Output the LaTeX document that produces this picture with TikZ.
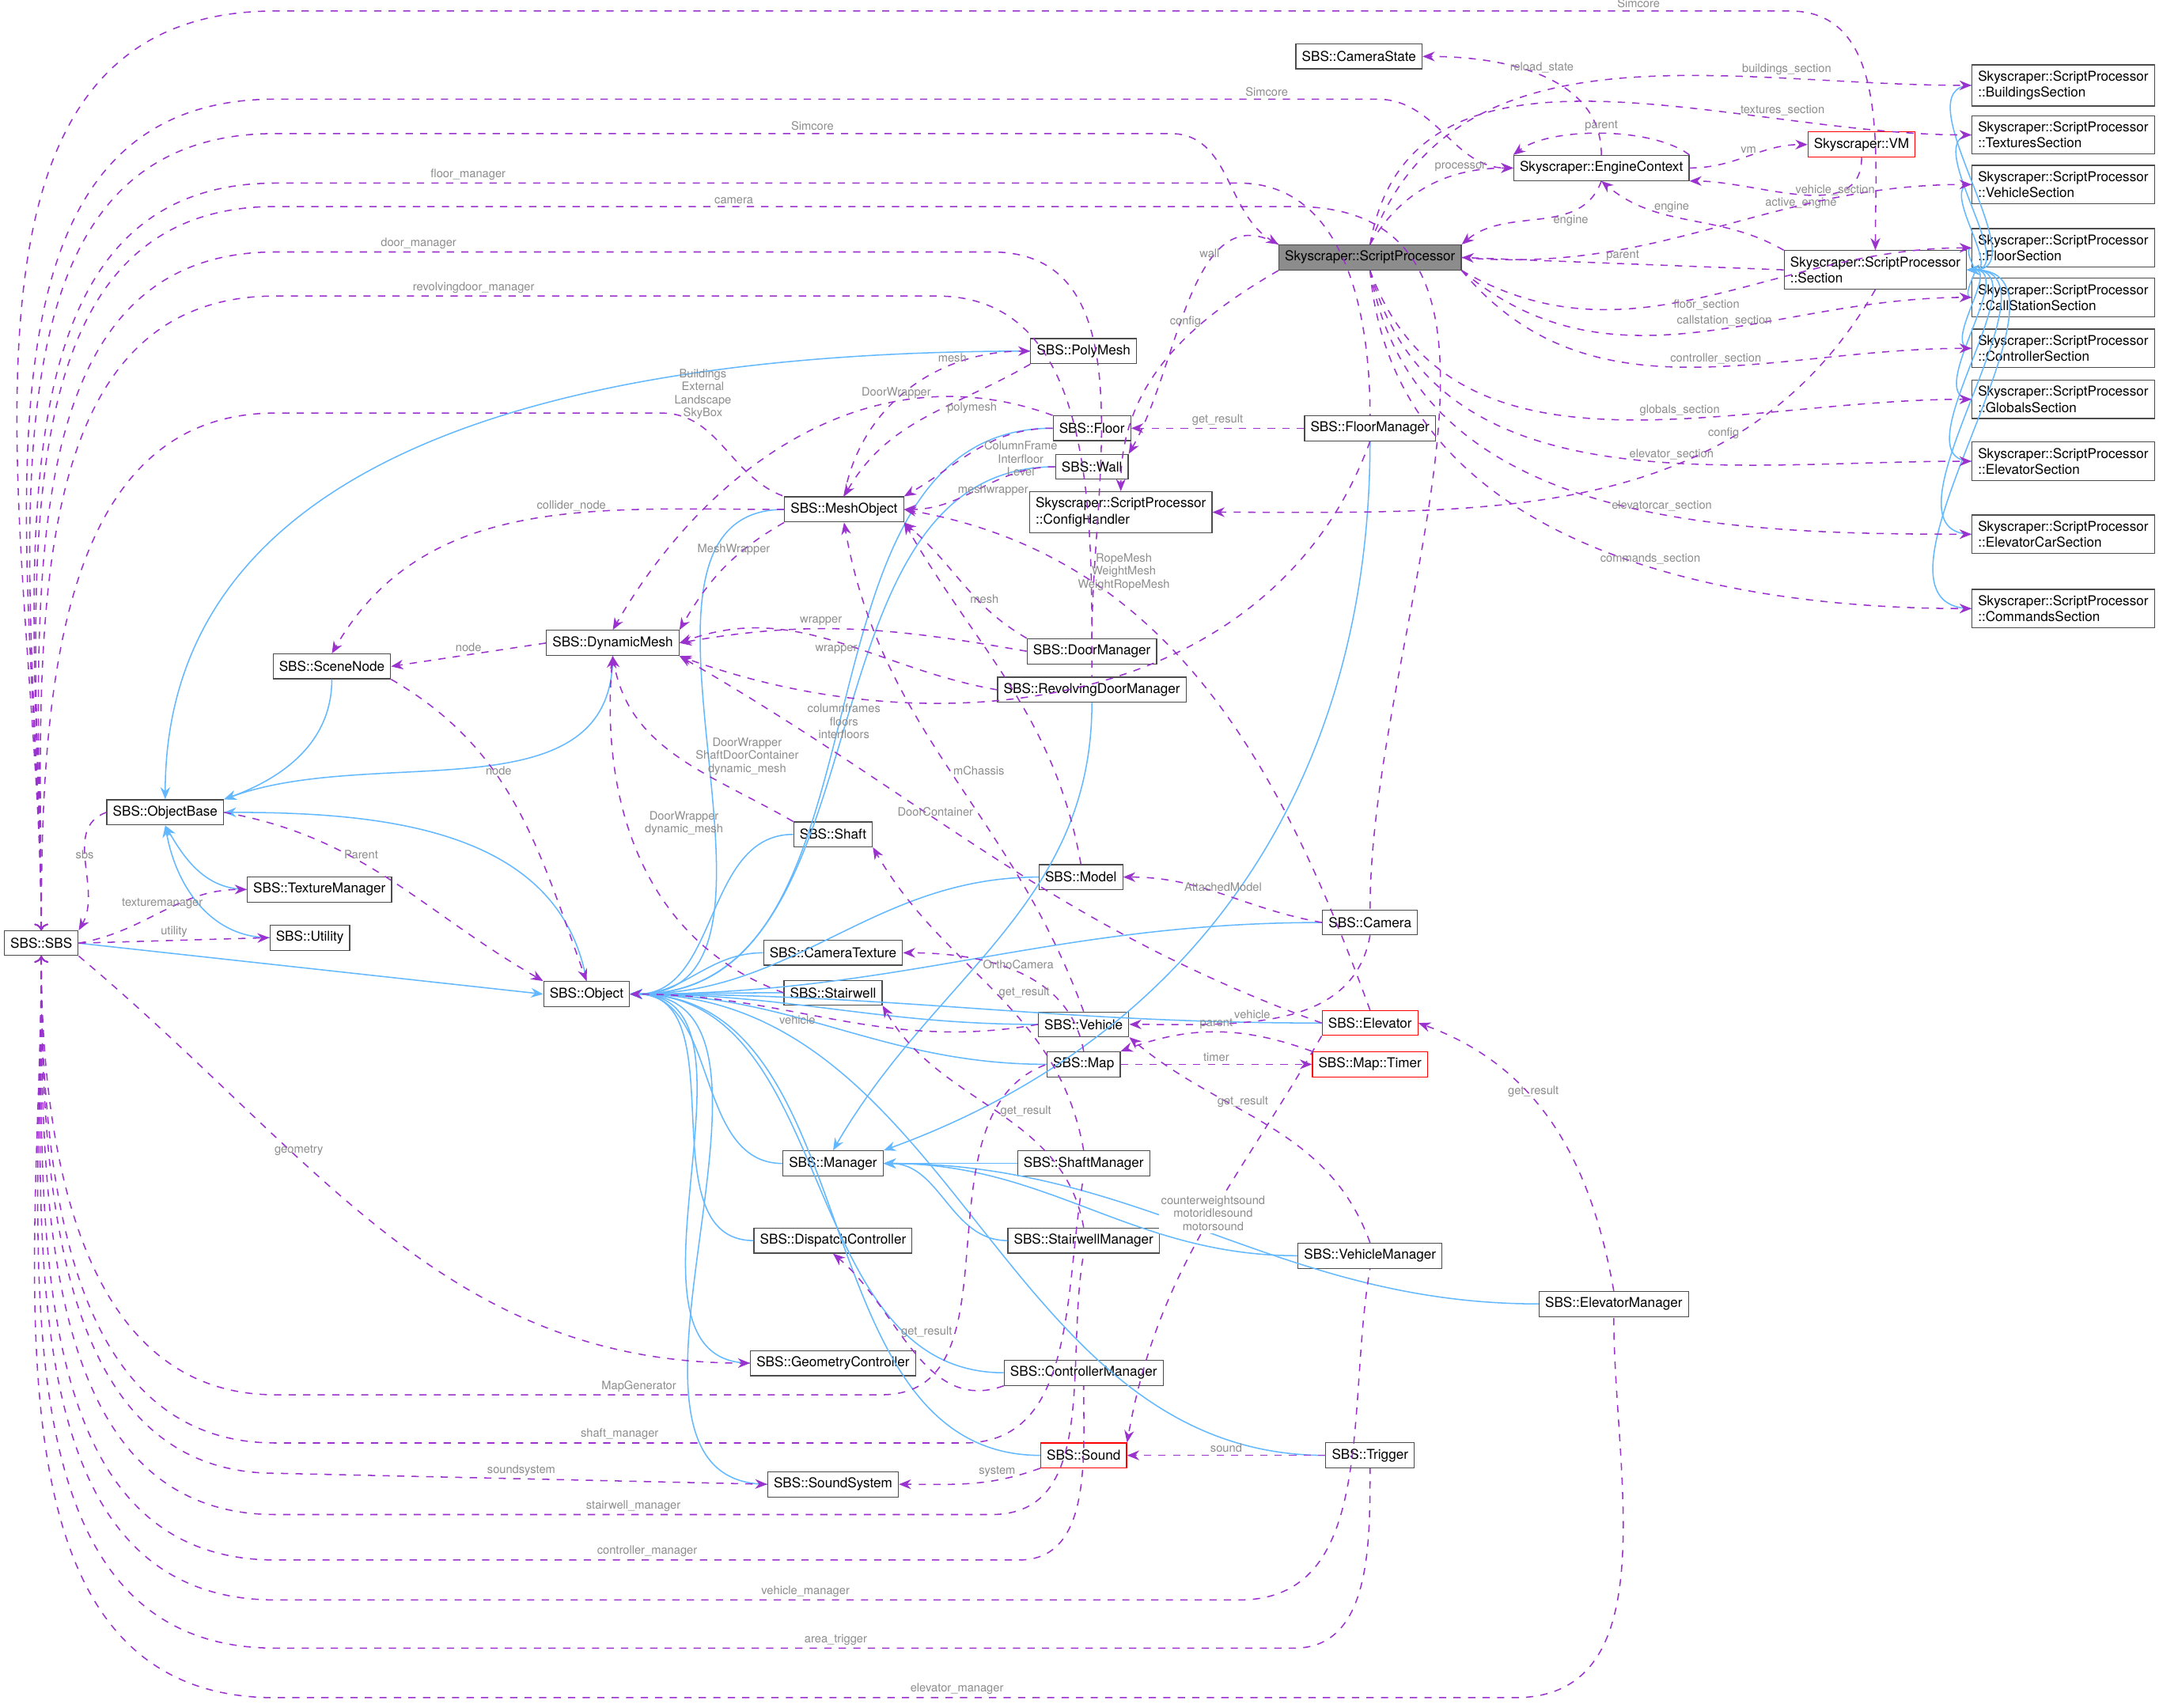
\documentclass[tikz,border=0pt]{standalone}
\usepackage{fontspec}
\setmainfont{TeX Gyre Heros}
\usetikzlibrary{arrows.meta}
\definecolor{inhblue}{HTML}{63B8FF}
\definecolor{deppurple}{HTML}{9A32CD}
\tikzset{
  cls/.style={draw=black!70, fill=white, font=\fontsize{5.6}{6.6}\selectfont, inner sep=2.5pt, minimum height=0.36cm, align=left},
  clsred/.style={cls, draw=red},
  clsgray/.style={cls, fill=black!45},
  secbox/.style={cls, anchor=east},
  inh/.style={draw=inhblue, line width=0.5pt, -{Stealth[length=5pt,width=4pt]}},
  dep/.style={draw=deppurple, dashed, line width=0.5pt, -{Stealth[length=5pt,width=4pt]}},
  lbl/.style={font=\fontsize{4.8}{5.4}\selectfont, text=black!45, inner sep=1pt, align=center}
}
\begin{document}
\begin{tikzpicture}[x=0.02cm, y=-0.02cm]
	\useasboundingbox (0,0) rectangle (1568,1240);
	
	% script processor side
	\node[clsgray] (SP) at (995,187) {Skyscraper::ScriptProcessor};
	\node[cls] (CamState) at (987,41) {SBS::CameraState};
	\node[cls] (EC) at (1163,122) {Skyscraper::EngineContext};
	\node[clsred] (VM) at (1352,105) {Skyscraper::VM};
	\node[cls] (Sec) at (1362,196) {Skyscraper::ScriptProcessor\\::Section};
	\node[secbox] (SBuild) at (1565,62) {Skyscraper::ScriptProcessor\\::BuildingsSection};
	\node[secbox] (STex) at (1565,98) {Skyscraper::ScriptProcessor\\::TexturesSection};
	\node[secbox] (SVeh) at (1565,134) {Skyscraper::ScriptProcessor\\::VehicleSection};
	\node[secbox] (SFloor) at (1565,180) {Skyscraper::ScriptProcessor\\::FloorSection};
	\node[secbox] (SCall) at (1565,216) {Skyscraper::ScriptProcessor\\::CallStationSection};
	\node[secbox] (SCtrl) at (1565,253) {Skyscraper::ScriptProcessor\\::ControllerSection};
	\node[secbox] (SGlob) at (1565,290) {Skyscraper::ScriptProcessor\\::GlobalsSection};
	\node[secbox] (SElev) at (1565,335) {Skyscraper::ScriptProcessor\\::ElevatorSection};
	\node[secbox] (SCar) at (1565,388) {Skyscraper::ScriptProcessor\\::ElevatorCarSection};
	\node[secbox] (SCmd) at (1565,442) {Skyscraper::ScriptProcessor\\::CommandsSection};
	\node[cls] (Config) at (814,372) {Skyscraper::ScriptProcessor\\::ConfigHandler};
	
	% sbs classes
	\node[cls] (SBS) at (30,685) {SBS::SBS};
	\node[cls] (ObjBase) at (120,590) {SBS::ObjectBase};
	\node[cls] (Obj) at (426,722) {SBS::Object};
	\node[cls] (SceneNode) at (241,484) {SBS::SceneNode};
	\node[cls] (DynMesh) at (445,467) {SBS::DynamicMesh};
	\node[cls] (MeshObj) at (613,370) {SBS::MeshObject};
	\node[cls] (PolyMesh) at (787,255) {SBS::PolyMesh};
	\node[cls] (Floor) at (793,311) {SBS::Floor};
	\node[cls] (Wall) at (793,339) {SBS::Wall};
	\node[cls] (FloorMgr) at (995,311) {SBS::FloorManager};
	\node[cls] (DoorMgr) at (793,473) {SBS::DoorManager};
	\node[cls] (RevMgr) at (793,501) {SBS::RevolvingDoorManager};
	\node[cls] (Shaft) at (605,606) {SBS::Shaft};
	\node[cls] (Model) at (785,637) {SBS::Model};
	\node[cls] (Camera) at (995,670) {SBS::Camera};
	\node[cls] (TexMgr) at (232,646) {SBS::TextureManager};
	\node[cls] (Utility) at (225,681) {SBS::Utility};
	\node[cls] (CamTex) at (605,692) {SBS::CameraTexture};
	\node[cls] (Stairwell) at (605,721) {SBS::Stairwell};
	\node[cls] (Vehicle) at (787,744) {SBS::Vehicle};
	\node[clsred] (Elevator) at (995,743) {SBS::Elevator};
	\node[cls] (Map) at (787,773) {SBS::Map};
	\node[clsred] (Timer) at (995,773) {SBS::Map::Timer};
	\node[cls] (Manager) at (605,845) {SBS::Manager};
	\node[cls] (ShaftMgr) at (787,845) {SBS::ShaftManager};
	\node[cls] (Dispatch) at (605,901) {SBS::DispatchController};
	\node[cls] (StairMgr) at (787,901) {SBS::StairwellManager};
	\node[cls] (VehMgr) at (995,912) {SBS::VehicleManager};
	\node[cls] (ElevMgr) at (1172,947) {SBS::ElevatorManager};
	\node[cls] (GeoCtrl) at (605,990) {SBS::GeometryController};
	\node[cls] (CtrlMgr) at (787,997) {SBS::ControllerManager};
	\node[clsred] (Sound) at (787,1057) {SBS::Sound};
	\node[cls] (Trigger) at (995,1057) {SBS::Trigger};
	\node[cls] (SndSys) at (605,1078) {SBS::SoundSystem};
	
	% inheritance
	\foreach \c in {SBuild,STex,SVeh,SFloor,SCall,SCtrl,SGlob,SElev,SCar,SCmd}
		\draw[inh] (\c.west) to[out=180,in=0] (Sec.east);
	\foreach \c in {DynMesh,SceneNode}
		\draw[inh] (\c.south) to[out=-90,in=20] (ObjBase.north east);
	\draw[inh] (PolyMesh.west) to[out=180,in=90] (ObjBase.north);
	\draw[inh] (TexMgr.west) to[out=180,in=-60] (ObjBase.south);
	\draw[inh] (Utility.west) to[out=180,in=-80] (ObjBase.south);
	\draw[inh] (Obj.north) to[out=100,in=0] (ObjBase.east);
	\draw[inh] (SBS.east) -- (Obj.west);
	\foreach \c in {MeshObj,Floor,Wall,Shaft,Model,Camera,CamTex,Stairwell,Vehicle,Map,Manager,Dispatch,GeoCtrl,CtrlMgr,Sound,SndSys,Elevator,Trigger}
		\draw[inh] (\c.west) to[out=180,in=0] (Obj.east);
	\draw[inh] (FloorMgr.south) to[out=-90,in=20] (Manager.north east);
	\draw[inh] (RevMgr.south) to[out=-90,in=60] (Manager.north);
	\foreach \c in {ShaftMgr,StairMgr,VehMgr,ElevMgr}
		\draw[inh] (\c.west) to[out=180,in=0] (Manager.east);
	
	% long connectors from sbs
	\draw[dep] (SBS.north) to[out=90,in=180] (200,8) -- node[lbl,above,pos=0.9]{Simcore} (1300,8) to[out=0,in=90] (Sec.north);
	\draw[dep] (SBS.north) to[out=90,in=180] (200,72) -- node[lbl,above,pos=0.9]{Simcore} (1000,72) to[out=0,in=180] (EC.west);
	\draw[dep] (SBS.north) to[out=90,in=180] (200,97) -- node[lbl,above,pos=0.6]{Simcore} (850,97) to[out=0,in=150] (SP.north west);
	\draw[dep, <-] (SBS.north) to[out=90,in=180] (200,133) -- node[lbl,above,pos=0.2]{floor\_manager} (900,133) to[out=0,in=90] (FloorMgr.north);
	\draw[dep, <-] (SBS.north) to[out=90,in=180] (200,150) -- node[lbl,above,pos=0.45]{camera} (940,150) to[out=0,in=90] (Camera.north);
	\draw[dep, <-] (SBS.north) to[out=90,in=180] (200,183) -- node[lbl,above,pos=0.2]{door\_manager} (720,183) to[out=0,in=90] (DoorMgr.north);
	\draw[dep, <-] (SBS.north) to[out=90,in=180] (200,215) -- node[lbl,above,pos=0.3]{revolvingdoor\_manager} (680,215) to[out=0,in=90] (RevMgr.north);
	\draw[dep, <-] (SBS.north) to[out=90,in=180] (200,300) -- (480,300) to[out=0,in=160] node[lbl,pos=0.3,above=2pt]{Buildings\\External\\Landscape\\SkyBox} (MeshObj.north west);
	\draw[dep] (ObjBase.west) to[out=200,in=60] node[lbl,above]{sbs} (SBS.north east);
	\draw[dep] (SBS.east) to[out=10,in=180] node[lbl,above]{texturemanager} (TexMgr.west);
	\draw[dep] (SBS.east) -- node[lbl,above]{utility} (Utility.west);
	\draw[dep] (SBS.south east) to[out=-40,in=180] node[lbl,above,pos=0.35]{geometry} (GeoCtrl.west);
	\draw[dep, <-] (SBS.south) to[out=-90,in=180] (200,1013) -- node[lbl,above,pos=0.6]{MapGenerator} (640,1013) to[out=0,in=200] (Map.west);
	\draw[dep, <-] (SBS.south) to[out=-90,in=180] (200,1048) -- node[lbl,above,pos=0.5]{shaft\_manager} (700,1048) to[out=0,in=-100] (ShaftMgr.south);
	\draw[dep] (SBS.south) to[out=-90,in=180] (200,1070) -- node[lbl,above,pos=0.5]{soundsystem} (SndSys.west);
	\draw[dep, <-] (SBS.south) to[out=-90,in=180] (200,1100) -- node[lbl,above,pos=0.5]{stairwell\_manager} (720,1100) to[out=0,in=-100] (StairMgr.south);
	\draw[dep, <-] (SBS.south) to[out=-90,in=180] (200,1133) -- node[lbl,above,pos=0.5]{controller\_manager} (740,1133) to[out=0,in=-90] (CtrlMgr.south);
	\draw[dep, <-] (SBS.south) to[out=-90,in=180] (200,1162) -- node[lbl,above,pos=0.55]{vehicle\_manager} (900,1162) to[out=0,in=-100] (VehMgr.south);
	\draw[dep, <-] (SBS.south) to[out=-90,in=180] (200,1197) -- node[lbl,above,pos=0.55]{area\_trigger} (940,1197) to[out=0,in=-90] (Trigger.south);
	\draw[dep, <-] (SBS.south) to[out=-90,in=180] (200,1233) -- node[lbl,above,pos=0.55]{elevator\_manager} (1100,1233) to[out=0,in=-90] (ElevMgr.south);
	
	% script processor connectors
	\draw[dep] (EC.north) to[out=90,in=0] node[lbl,above]{reload\_state} (CamState.east);
	\draw[dep] (EC.north east) .. controls (1200,92) and (1126,92) .. node[lbl,above]{parent} (EC.north west);
	\draw[dep] (EC.east) to[out=0,in=180] node[lbl,above]{vm} (VM.west);
	\draw[dep] (VM.south) to[out=-90,in=0] node[lbl,below]{active\_engine} (EC.south east);
	\draw[dep] (SP.north) to[out=60,in=180] node[lbl,above,pos=0.7]{processor} (EC.west);
	\draw[dep] (EC.south) to[out=-110,in=40] node[lbl,below,pos=0.3]{engine} (SP.north east);
	\draw[dep] (Sec.north west) to[out=150,in=-40] node[lbl,above,pos=0.6]{engine} (EC.south);
	\draw[dep] (Sec.west) -- node[lbl,above]{parent} (SP.east);
	\draw[dep] (SP.north) to[out=70,in=180] node[lbl,above,pos=0.75]{buildings\_section} (SBuild.west);
	\draw[dep] (SP.north) to[out=80,in=180] node[lbl,above,pos=0.75]{textures\_section} (STex.west);
	\draw[dep] (SP.east) to[out=-5,in=180] node[lbl,above,pos=0.75]{vehicle\_section} (SVeh.west);
	\draw[dep] (SP.south east) to[out=-30,in=180] node[lbl,below,pos=0.5]{floor\_section} (SFloor.west);
	\draw[dep] (SP.south east) to[out=-40,in=180] node[lbl,above,pos=0.55]{callstation\_section} (SCall.west);
	\draw[dep] (SP.south east) to[out=-50,in=180] node[lbl,above,pos=0.55]{controller\_section} (SCtrl.west);
	\draw[dep] (SP.south) to[out=-70,in=180] node[lbl,above,pos=0.6]{globals\_section} (SGlob.west);
	\draw[dep] (SP.south) to[out=-75,in=180] node[lbl,above,pos=0.6]{elevator\_section} (SElev.west);
	\draw[dep] (SP.south) to[out=-80,in=180] node[lbl,above,pos=0.6]{elevatorcar\_section} (SCar.west);
	\draw[dep] (SP.south) to[out=-85,in=180] node[lbl,above,pos=0.6]{commands\_section} (SCmd.west);
	\draw[dep] (SP.north west) to[out=150,in=60] node[lbl,above,pos=0.35]{wall} (Wall.north east);
	\draw[dep] (SP.south west) to[out=-150,in=90] node[lbl,left,pos=0.3]{config} (Config.north);
	\draw[dep] (Sec.south) to[out=-120,in=0] node[lbl,above,pos=0.3]{config} (Config.east);
	
	% mesh connectors
	\draw[dep] (MeshObj.north) to[out=80,in=180] node[lbl,above,pos=0.7]{mesh} (PolyMesh.west);
	\draw[dep] (PolyMesh.south west) to[out=-150,in=60] node[lbl,right,pos=0.4]{polymesh} (MeshObj.north);
	\draw[dep] (Floor.west) to[out=180,in=30] node[lbl,right=8pt,pos=0.6]{ColumnFrame\\Interfloor\\Level} (MeshObj.north east);
	\draw[dep] (Floor.north west) to[out=160,in=60] node[lbl,above,pos=0.3]{DoorWrapper} (DynMesh.north);
	\draw[dep] (FloorMgr.west) -- node[lbl,above]{get\_result} (Floor.east);
	\draw[dep] (Wall.west) to[out=180,in=0] node[lbl,below,pos=0.4]{meshwrapper} (MeshObj.east);
	\draw[dep] (MeshObj.south west) to[out=-150,in=60] node[lbl,above,pos=0.4]{MeshWrapper} (DynMesh.north east);
	\draw[dep] (MeshObj.west) to[out=180,in=60] node[lbl,above,pos=0.4]{collider\_node} (SceneNode.north);
	\draw[dep] (DynMesh.west) -- node[lbl,above]{node} (SceneNode.east);
	\draw[dep] (DoorMgr.west) to[out=170,in=10] node[lbl,above,pos=0.6]{wrapper} (DynMesh.east);
	\draw[dep] (RevMgr.west) to[out=170,in=20] node[lbl,below,pos=0.5]{wrapper} (DynMesh.east);
	\draw[dep] (DoorMgr.north west) to[out=150,in=-40] node[lbl,above,pos=0.3]{mesh} (MeshObj.south east);
	\draw[dep] (FloorMgr.south) to[out=-110,in=-20] node[lbl,pos=0.8,below=2pt]{columnframes\\floors\\interfloors} (DynMesh.south east);
	\draw[dep] (Elevator.north) to[out=110,in=-10] node[lbl,right,pos=0.75]{RopeMesh\\WeightMesh\\WeightRopeMesh} (MeshObj.east);
	\draw[dep] (Shaft.north west) to[out=150,in=-80] node[lbl,right=6pt,pos=0.5]{DoorWrapper\\ShaftDoorContainer\\dynamic\_mesh} (DynMesh.south);
	\draw[dep] (Stairwell.west) to[out=160,in=-95] node[lbl,right=6pt,pos=0.6]{DoorWrapper\\dynamic\_mesh} (DynMesh.south);
	\draw[dep] (Elevator.west) to[out=160,in=-30] node[lbl,above,pos=0.6]{DoorContainer} (DynMesh.south east);
	\draw[dep] (Vehicle.north) to[out=110,in=-80] node[lbl,right,pos=0.5]{mChassis} (MeshObj.south);
	\draw[dep] (Model.north) to[out=100,in=-60] (MeshObj.south east);
	\draw[dep] (SceneNode.south east) to[out=-30,in=110] node[lbl,above,pos=0.4]{node} (Obj.north);
	\draw[dep] (ObjBase.east) to[out=-10,in=150] node[lbl,above,pos=0.4]{Parent} (Obj.north west);
	
	% camera, map and managers
	\draw[dep] (Camera.west) to[out=170,in=0] node[lbl,above]{AttachedModel} (Model.east);
	\draw[dep] (Camera.south) to[out=-100,in=0] node[lbl,above,pos=0.6]{vehicle} (Vehicle.east);
	\draw[dep] (Vehicle.west) to[out=190,in=0] node[lbl,below,pos=0.6]{vehicle} (Obj.east);
	\draw[dep] (Map.north) to[out=100,in=0] node[lbl,above,pos=0.5]{OrthoCamera} (CamTex.east);
	\draw[dep] (Map.east) -- node[lbl,above]{timer} (Timer.west);
	\draw[dep] (Timer.north west) to[out=160,in=20] node[lbl,above]{parent} (Map.north east);
	\draw[dep] (ShaftMgr.north) to[out=100,in=-60] node[lbl,right,pos=0.5]{get\_result} (Shaft.south east);
	\draw[dep] (StairMgr.north) to[out=100,in=-60] node[lbl,right,pos=0.5]{get\_result} (Stairwell.south east);
	\draw[dep] (VehMgr.north) to[out=110,in=-40] node[lbl,above,pos=0.6]{get\_result} (Vehicle.south east);
	\draw[dep] (ElevMgr.north) to[out=100,in=-20] node[lbl,above,pos=0.6]{get\_result} (Elevator.east);
	\draw[dep] (CtrlMgr.south west) to[out=-160,in=-40] node[lbl,right,pos=0.6]{get\_result} (Dispatch.south);
	\draw[dep] (Elevator.south west) to[out=-120,in=80] node[lbl,pos=0.45,fill=white]{counterweightsound\\motoridlesound\\motorsound} (Sound.north east);
	\draw[dep] (Trigger.west) -- node[lbl,above]{sound} (Sound.east);
	\draw[dep] (Sound.south west) to[out=-160,in=0] node[lbl,above,pos=0.3]{system} (SndSys.east);
\end{tikzpicture}
\end{document}
